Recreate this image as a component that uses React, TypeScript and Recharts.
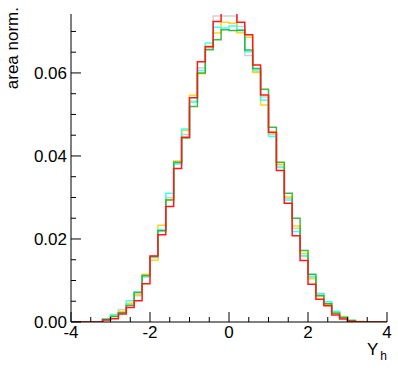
import { LineChart, Line, XAxis, YAxis, Label } from "recharts";

// bin edges (Y_h), 40 bins of width 0.2
const binEdges = [
  -4.0, -3.8, -3.6, -3.4, -3.2, -3.0, -2.8, -2.6, -2.4, -2.2,
  -2.0, -1.8, -1.6, -1.4, -1.2, -1.0, -0.8, -0.6, -0.4, -0.2,
  0.0, 0.2, 0.4, 0.6, 0.8, 1.0, 1.2, 1.4, 1.6, 1.8,
  2.0, 2.2, 2.4, 2.6, 2.8, 3.0, 3.2, 3.4, 3.6, 3.8, 4.0,
];

// bin contents (area normalised), one list per sample
const grayVals = [
  0, 0, 0, 0, 0.0007, 0.0014, 0.003, 0.0042, 0.0063, 0.0108,
  0.0155, 0.022, 0.03, 0.038, 0.0452, 0.0532, 0.0612, 0.066, 0.0737, 0.0737,
  0.0737, 0.0712, 0.0642, 0.0603, 0.0542, 0.0452, 0.0375, 0.0298, 0.0226, 0.0158,
  0.0108, 0.0069, 0.0045, 0.0022, 0.0011, 0.0004, 0.0001, 0, 0, 0,
];
const yellowVals = [
  0, 0, 0, 0, 0.0008, 0.0015, 0.0025, 0.0045, 0.0066, 0.0115,
  0.0149, 0.0233, 0.0295, 0.0388, 0.0462, 0.0546, 0.0598, 0.0665, 0.0696, 0.0722,
  0.072, 0.0697, 0.0686, 0.0601, 0.0523, 0.0455, 0.038, 0.0301, 0.0231, 0.0165,
  0.0104, 0.0062, 0.0043, 0.0024, 0.0013, 0.0004, 0.0001, 0, 0, 0,
];
const cyanVals = [
  0, 0, 0, 0, 0.0008, 0.0018, 0.0022, 0.0051, 0.0072, 0.011,
  0.0157, 0.0222, 0.031, 0.0382, 0.0465, 0.053, 0.0606, 0.0672, 0.071, 0.0708,
  0.0713, 0.0704, 0.0651, 0.0607, 0.0535, 0.0447, 0.0372, 0.0294, 0.0218, 0.016,
  0.011, 0.0068, 0.0049, 0.0026, 0.0011, 0.0004, 0, 0, 0, 0,
];
const greenVals = [
  0, 0, 0, 0, 0.0006, 0.0013, 0.0022, 0.004, 0.0071, 0.0112,
  0.0158, 0.022, 0.0294, 0.0385, 0.0443, 0.0519, 0.06, 0.0656, 0.068, 0.0704,
  0.0702, 0.0702, 0.0655, 0.0611, 0.0561, 0.0469, 0.0385, 0.031, 0.025, 0.0172,
  0.0115, 0.0064, 0.0044, 0.0021, 0.0011, 0.0003, 0, 0, 0, 0,
];
const redVals = [
  0, 0, 0, 0, 0.0005, 0.0008, 0.0019, 0.0035, 0.0051, 0.0092,
  0.0159, 0.021, 0.0278, 0.037, 0.0445, 0.054, 0.0627, 0.0663, 0.0724, 0.0746,
  0.0746, 0.0722, 0.0692, 0.0619, 0.0547, 0.0457, 0.0365, 0.0286, 0.0208, 0.0148,
  0.0091, 0.0055, 0.0039, 0.0017, 0.0007, 0.0002, 0, 0, 0, 0,
];

const xTicks = [-4, -3.5, -3, -2.5, -2, -1.5, -1, -0.5, 0, 0.5, 1, 1.5, 2, 2.5, 3, 3.5, 4];
const xMajor = [-4, -2, 0, 2, 4];
const yTicks = [
  0, 0.005, 0.01, 0.015, 0.02, 0.025, 0.03, 0.035, 0.04, 0.045, 0.05, 0.055, 0.06, 0.065, 0.07,
];
const yMajor = [0, 0.02, 0.04, 0.06];
const yMax = 0.0742;

const series = [
  { key: "gray", vals: grayVals, color: "#c8c8c8" },
  { key: "yellow", vals: yellowVals, color: "#ffcc00" },
  { key: "cyan", vals: cyanVals, color: "#22ffff" },
  { key: "green", vals: greenVals, color: "#22aa22" },
  { key: "red", vals: redVals, color: "#ff1a1a" },
];

// step data: one row per bin edge, last edge repeats last bin
const data = binEdges.map((x, i) => {
  const row: Record<string, number> = { x };
  series.forEach((s) => {
    row[s.key] = s.vals[Math.min(i, s.vals.length - 1)];
  });
  return row;
});

const FONT = "'Liberation Sans', Arial, Helvetica, sans-serif";

const XTick = (props: any) => {
  const { x, y, payload } = props;
  const major = xMajor.includes(payload.value);
  return (
    <g>
      <line x1={x} y1={y} x2={x} y2={y - (major ? 10 : 5)} stroke="#000" />
      {major && (
        <text x={x} y={y + 16} textAnchor="middle" fontSize={17} fontFamily={FONT} fill="#000">
          {payload.value}
        </text>
      )}
    </g>
  );
};

const YTick = (props: any) => {
  const { x, y, payload } = props;
  const major = yMajor.includes(payload.value);
  return (
    <g>
      <line x1={x} y1={y} x2={x + (major ? 10 : 5)} y2={y} stroke="#000" />
      {major && (
        <text x={x - 4} y={y + 6} textAnchor="end" fontSize={17} fontFamily={FONT} fill="#000">
          {payload.value.toFixed(2)}
        </text>
      )}
    </g>
  );
};

export default function App() {
  return (
    <div style={{ position: "absolute", left: 0, top: 0, background: "#fff" }}>
      <LineChart
        width={398}
        height={368}
        data={data}
        margin={{ top: 14, right: 11, bottom: 0, left: 0 }}
      >
        <XAxis
          dataKey="x"
          type="number"
          domain={[-4, 4]}
          ticks={xTicks}
          interval={0}
          tick={<XTick />}
          tickLine={false}
          tickSize={0}
          tickMargin={0}
          height={46}
          axisLine={{ stroke: "#000" }}
        >
          <Label
            content={() => (
              <text x={387} y={355} textAnchor="end" fontSize={17} fontFamily={FONT} fill="#000">
                Y
                <tspan fontSize={12} dx={2} dy={5}>h</tspan>
              </text>
            )}
          />
        </XAxis>
        <XAxis
          xAxisId="top"
          dataKey="x"
          type="number"
          domain={[-4, 4]}
          orientation="top"
          height={0}
          tick={false}
          tickLine={false}
          axisLine={{ stroke: "#000" }}
        />
        <YAxis
          type="number"
          domain={[0, yMax]}
          allowDataOverflow
          ticks={yTicks}
          interval={0}
          tick={<YTick />}
          tickLine={false}
          tickSize={0}
          tickMargin={0}
          width={71}
          axisLine={{ stroke: "#000" }}
        >
          <Label
            content={() => (
              <text
                x={18}
                y={7}
                transform="rotate(-90 18 7)"
                textAnchor="end"
                fontSize={17}
                fontFamily={FONT}
                fill="#000"
              >
                area norm.
              </text>
            )}
          />
        </YAxis>
        <YAxis
          yAxisId="right"
          orientation="right"
          domain={[0, yMax]}
          width={0}
          tick={false}
          tickLine={false}
          axisLine={{ stroke: "#000" }}
        />
        {series.map((s) => (
          <Line
            key={s.key}
            dataKey={s.key}
            type="stepAfter"
            stroke={s.color}
            strokeWidth={1.5}
            strokeOpacity={s.key === "red" ? 1 : 0.85}
            dot={false}
            activeDot={false}
            isAnimationActive={false}
          />
        ))}
      </LineChart>
    </div>
  );
}
